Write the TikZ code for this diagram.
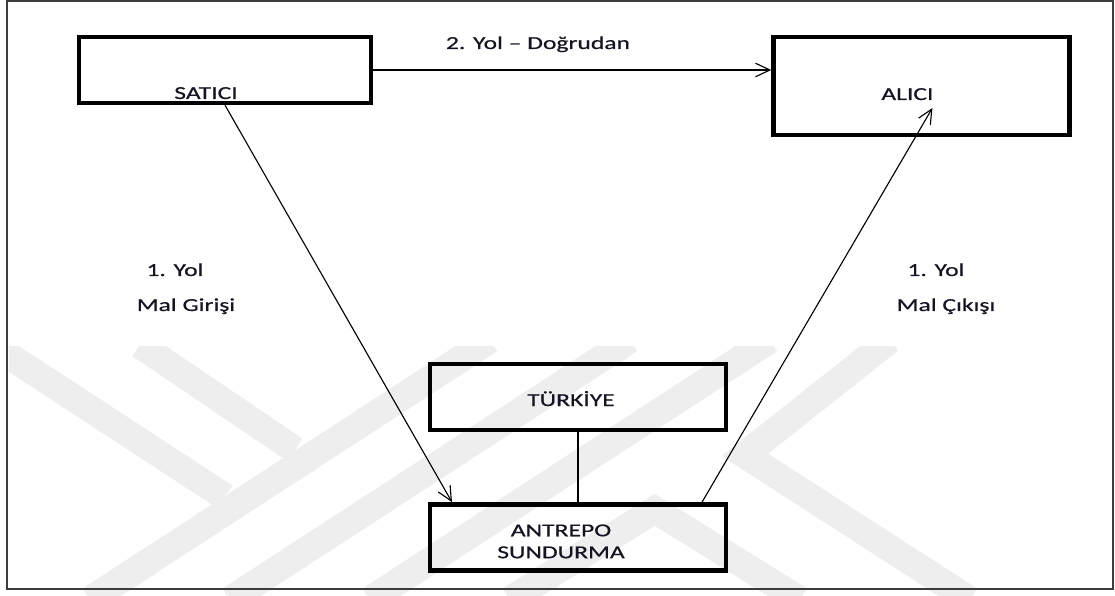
\documentclass[tikz,border=0pt]{standalone}
\usepackage{fontspec}
\setmainfont{Carlito}[FakeStretch=1.4, FakeBold=0.6]
\usepackage{tikz}
\usetikzlibrary{arrows.meta, positioning, calc}
\definecolor{wmgray}{RGB}{238,238,238}
\definecolor{framegray}{RGB}{60,60,60}
\definecolor{yazi}{RGB}{20,20,35}

\begin{document}
\begin{tikzpicture}[
    font=\fontsize{13}{15.6}\selectfont,
    kutu/.style={rectangle, draw=black, line width=0.11cm},
    etiket/.style={inner sep=0pt, anchor=base, text=yazi},
    ok/.style={-{Straight Barb[length=3.6mm, width=3.4mm]}, line width=0.8pt},
    cizgi/.style={line width=0.8pt},
    filigran/.style={wmgray, line width=0.68cm, line join=miter}
]
\useasboundingbox (0,0) rectangle (27.875,-14.9);

% Filigran
\begin{scope}[x=0.025cm, y=-0.025cm]
  \clip (9,347) rectangle (1115,596);
  \draw[filigran] (0,350) -- (225,497);
  \draw[filigran] (140,345) -- (295,450);
  \draw[filigran] (90,600) -- (490,340);
  \draw[filigran] (230,600) -- (630,340);
  \draw[filigran] (370,600) -- (770,340);
  \draw[filigran] (510,600) -- (655,510) -- (800,600);
  \draw[filigran] (890,340) -- (745,455) -- (970,600);
\end{scope}

% Cerceve
\draw[framegray, line width=0.05cm] (0.175,-0.025) rectangle (27.825,-14.725);

% Kutular
\node[kutu, minimum width=7.3cm, minimum height=1.65cm] (satici) at (5.625,-1.75) {};
\node[kutu, minimum width=7.4cm, minimum height=2.45cm, right=9.95cm of satici.north east, anchor=north west] (alici) {};
\node[kutu, minimum width=7.4cm, minimum height=1.65cm] (turkiye) at (14.45,-9.925) {};
\node[kutu, minimum width=7.4cm, minimum height=1.65cm, below=1.75cm of turkiye] (antrepo) {};

% Yazilar
\node[etiket] (satici-yazi) at ($(satici)+(-0.475,-0.725)$) {SATICI};
\node[etiket] (alici-yazi) at ($(alici)+(-0.35,-0.35)$) {ALICI};
\node[etiket] (turkiye-yazi) at ($(turkiye)+(-0.175,-0.225)$) {TÜRKİYE};
\node[align=center, inner sep=0pt, text=yazi] (antrepo-yazi) at ($(antrepo)+(-0.425,-0.1)$) {ANTREPO\\SUNDURMA};

% Baglantilar
\coordinate (giris-uc) at ($(antrepo.north)+(-3.15,0)$);
\coordinate (cikis-bas) at ($(antrepo.north)+(3.1,0)$);
\coordinate (cikis-uc) at ($(alici.center)+(0.275,-0.55)$);
\draw[ok] (satici.east) -- (satici.east -| alici.west);
\draw[ok] (satici.south) -- (giris-uc);
\draw[ok] (cikis-bas) -- (cikis-uc);
\draw[cizgi] (turkiye.south) -- (antrepo.north);

% Yol etiketleri
\node[etiket] (yol2) at (13.45,-1.225) {2. Yol – Doğrudan};
\node[etiket] (yol1-sol) at (4.375,-6.9) {1. Yol};
\node[etiket] (giris) at (4.65,-7.775) {Mal Girişi};
\node[etiket] (yol1-sag) at (23.4,-6.9) {1. Yol};
\node[etiket] (cikis) at (23.65,-7.775) {Mal Çıkışı};

\end{tikzpicture}
\end{document}
